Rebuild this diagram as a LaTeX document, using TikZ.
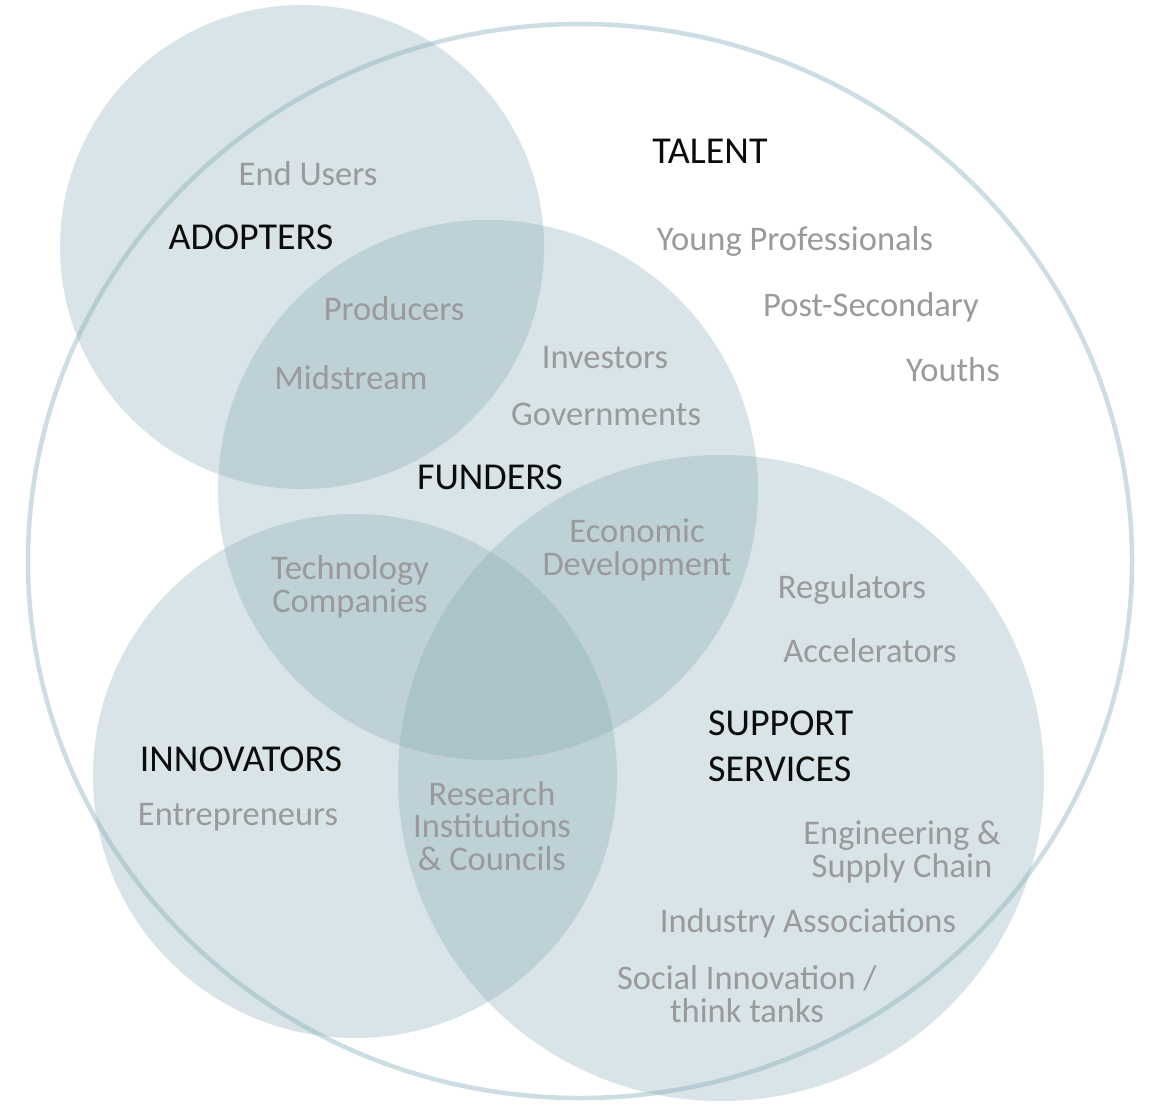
\documentclass[tikz,border=0pt]{standalone}
\usepackage{fontspec}
\setmainfont{Carlito}
\definecolor{ring}{RGB}{204,222,227}
\definecolor{disc}{RGB}{128,166,176}
\definecolor{sub}{RGB}{154,154,157}
\definecolor{head}{RGB}{12,12,12}
\begin{document}
\begin{tikzpicture}[x=1pt,y=-1pt,
  setdisc/.style={fill=disc,fill opacity=0.3,draw=none},
  title/.style={text=head,inner sep=0pt,anchor=base,font=\fontsize{38}{46}\selectfont},
  member/.style={text=sub,inner sep=0pt,anchor=base,align=center,font=\fontsize{34.5}{32.5}\selectfont}]
\useasboundingbox[fill=white] (0,0) rectangle (1151,1104);

% outer ring: talent pool
\draw[ring,line width=4.5pt] (580,561) ellipse [x radius=552, y radius=537];

% the four overlapping sets
\fill[setdisc] (302,247) circle [radius=242];
\fill[setdisc] (488,490) circle [radius=270];
\fill[setdisc] (355,776) circle [radius=262];
\fill[setdisc] (721,778) circle [radius=323];

% set titles (multi-line nodes are placed by their last baseline)
\node[title] (adopters) at (251,249) {ADOPTERS};
\node[title] (talent) at (710,163) {TALENT};
\node[title] (funders) at (490,489) {FUNDERS};
\node[title] (innovators) at (241,771) {INNOVATORS};
\node[title,align=left,anchor=base west] (support) at (708,781) {SUPPORT\\[0pt]SERVICES};

% members
\node[member] (endusers) at (308,185) {End Users};
\node[member] (young) at (795,250) {Young Professionals};
\node[member] (postsec) at (871,316) {Post-Secondary};
\node[member] (youths) at (953,381) {Youths};
\node[member] (producers) at (394,320) {Producers};
\node[member] (midstream) at (351,389) {Midstream};
\node[member] (investors) at (605,368) {Investors};
\node[member] (govts) at (606,425) {Governments};
\node[member] (econdev) at (637,575) {Economic\\Development};
\node[member] (tech) at (350,612) {Technology\\Companies};
\node[member] (regulators) at (852,598) {Regulators};
\node[member] (accel) at (870,662) {Accelerators};
\node[member] (entre) at (238,825) {Entrepreneurs};
\node[member] (research) at (492,870) {Research\\Institutions\\\& Councils};
\node[member] (engineering) at (902,877) {Engineering \&\\Supply Chain};
\node[member] (industry) at (808,932) {Industry Associations};
\node[member] (social) at (747,1022) {Social Innovation /\\think tanks};
\end{tikzpicture}
\end{document}
